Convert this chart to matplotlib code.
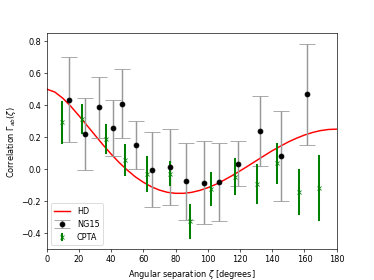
import matplotlib
matplotlib.use("Agg")
import matplotlib.pyplot as plt

# Hellings-Downs curve values read at 5-degree steps
hd_angle = [0, 5, 10, 15, 20, 25, 30, 35, 40, 45, 50, 55, 60, 65, 70, 75, 80, 85, 90,
            95, 100, 105, 110, 115, 120, 125, 130, 135, 140, 145, 150, 155, 160, 165, 170, 175, 180]
hd_corr = [0.500, 0.482, 0.443, 0.392, 0.334, 0.273, 0.212, 0.151, 0.094, 0.041, -0.006,
           -0.048, -0.082, -0.110, -0.131, -0.145, -0.151, -0.151, -0.145, -0.133, -0.116,
           -0.095, -0.069, -0.041, -0.011, 0.020, 0.052, 0.084, 0.115, 0.143, 0.170, 0.193,
           0.213, 0.229, 0.241, 0.248, 0.250]

# NG15 binned correlations
ng15_angle = [13.8, 23.7, 32.6, 41.3, 47.0, 55.3, 65.6, 76.4, 86.7, 97.7, 107.2, 118.6, 132.2, 145.6, 161.9]
ng15_corr = [0.435, 0.222, 0.386, 0.257, 0.410, 0.150, -0.004, 0.013, -0.075, -0.085, -0.079, 0.035, 0.238, 0.081, 0.469]
ng15_err = [0.265, 0.225, 0.190, 0.177, 0.215, 0.150, 0.235, 0.240, 0.240, 0.260, 0.245, 0.140, 0.217, 0.280, 0.316]

# CPTA binned correlations
cpta_angle = [9.5, 22.2, 36.7, 48.5, 62.5, 76.4, 89.2, 102.2, 116.9, 130.3, 142.9, 156.8, 168.8]
cpta_corr = [0.292, 0.314, 0.190, 0.057, -0.030, -0.028, -0.325, -0.123, -0.047, -0.090, 0.036, -0.143, -0.120]
cpta_err = [0.133, 0.095, 0.093, 0.100, 0.112, 0.078, 0.110, 0.106, 0.117, 0.125, 0.129, 0.143, 0.206]

fig, ax = plt.subplots(figsize=(6.4, 4.8), dpi=58.4375)

ax.plot(hd_angle, hd_corr, color='red', lw=1.8, label='HD')
ax.errorbar(ng15_angle, ng15_corr, yerr=ng15_err, fmt='o', color='black',
            ecolor=(0.6, 0.6, 0.6), elinewidth=1.8, capsize=10, label='NG15')
ax.errorbar(cpta_angle, cpta_corr, yerr=cpta_err, fmt='x', color='green',
            ecolor='green', elinewidth=2.5, label='CPTA')

ax.set_xlim(0, 180)
ax.set_ylim(-0.5, 0.85)
ax.set_xlabel(r'Angular separation $\zeta$ [degrees]')
ax.set_ylabel(r'Correlation $\Gamma_{ab}(\zeta)$')
ax.legend(loc='lower left')

fig.savefig('out.png', dpi=58.4375)
